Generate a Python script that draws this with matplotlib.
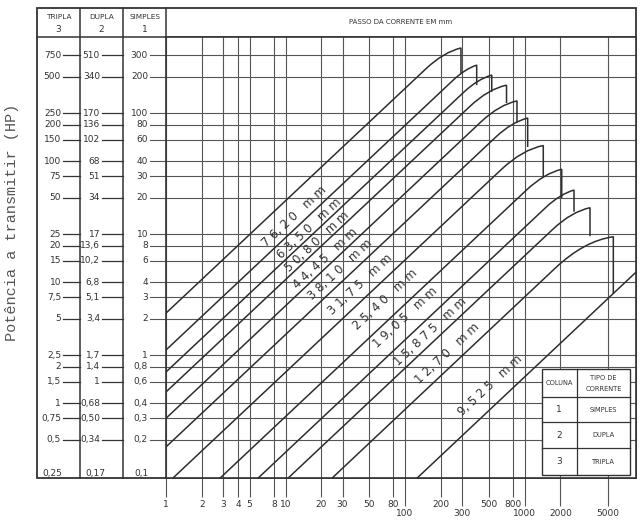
import matplotlib
matplotlib.use("Agg")
import matplotlib.pyplot as plt
import matplotlib.transforms as mtransforms
from matplotlib.path import Path
from matplotlib.patches import PathPatch, Rectangle
from matplotlib.ticker import NullLocator

# escalas das colunas (potencia a transmitir, HP)
simples = [300, 200, 100, 80, 60, 40, 30, 20, 10, 8, 6, 4, 3, 2, 1, 0.8, 0.6, 0.4, 0.3, 0.2, 0.1]
simples_txt = ["300", "200", "100", "80", "60", "40", "30", "20", "10", "8", "6", "4", "3", "2",
               "1", "0,8", "0,6", "0,4", "0,3", "0,2", "0,1"]
dupla_txt = ["510", "340", "170", "136", "102", "68", "51", "34", "17", "13,6", "10,2", "6,8", "5,1",
             "3,4", "1,7", "1,4", "1", "0,68", "0,50", "0,34", "0,17"]
tripla_txt = ["750", "500", "250", "200", "150", "100", "75", "50", "25", "20", "15", "10", "7,5",
              "5", "2,5", "2", "1,5", "1", "0,75", "0,5", "0,25"]

# rotacoes (rpm) no eixo x
rpm_cima = [1, 2, 3, 4, 5, 8, 10, 20, 30, 50, 80, 200, 500, 800]
rpm_baixo = [100, 300, 1000, 2000, 5000]

# passo da corrente
passos = ["76,20", "63,50", "50,80", "44,45", "38,10", "31,75", "25,40", "19,05", "15,875", "12,70", "9,525"]

# cada curva: inicio, joelho, controle da curva, pico, fim da queda vertical
curva_rpm = [
    [1, 151, 211, 294, 294],
    [1, 253, 317, 398, 398],
    [1, 310, 406, 532, 532],
    [1, 351, 498, 707, 707],
    [1, 437, 615, 865, 865],
    [1, 574, 781, 1063, 1063],
    [1.14, 645, 962, 1436, 1436],
    [2.83, 1039, 1459, 2048, 2048],
    [5.89, 1519, 1986, 2596, 2596],
    [10.5, 1718, 2464, 3533, 3533],
    [24.5, 1817, 3172, 5536, 5536],
]
curva_hp = [
    [2.22, 234, 319, 345, 210],
    [1.10, 187, 231, 249, 170],
    [0.724, 148.5, 191, 206, 150],
    [0.495, 114, 158, 170, 121],
    [0.30, 85.4, 117, 126, 84],
    [0.174, 63.2, 84.3, 90.9, 52.4],
    [0.096, 34.4, 49.9, 53.9, 29.8],
    [0.096, 23.1, 31.7, 34.3, 19.8],
    [0.096, 16.7, 21.4, 23.1, 15.3],
    [0.096, 10.9, 15.3, 16.5, 9.6],
    [0.096, 5.25, 8.80, 9.50, 3.22],
]
# ultima reta (sem rotulo)
reta_rpm = [126, 8570]
reta_hp = [0.096, 4.84]

# posicao dos rotulos das curvas
rot_rpm = [11.8, 15.7, 18.3, 21.4, 28.6, 42.0, 68.0, 100, 162, 225, 514]
rot_hp = [14.1, 11.0, 8.59, 6.33, 5.04, 3.86, 2.85, 2.06, 1.55, 1.04, 0.565]

cor = "#333333"
cor_grade = "#555555"

W, H = 641, 523
fig = plt.figure(figsize=(W / 100, H / 100), dpi=100, facecolor="white")


def caixa(x0, y0, x1, y1):
    return [x0 / W, 1 - y1 / H, (x1 - x0) / W, (y1 - y0) / H]


# moldura com as colunas (coordenadas em pixels)
moldura = fig.add_axes(caixa(37, 8, 636, 478), zorder=0)
moldura.set_xlim(37, 636)
moldura.set_ylim(478, 8)
moldura.axis("off")

ax = fig.add_axes(caixa(166, 37, 636, 478), zorder=1)
ax.set_xscale("log")
ax.set_yscale("log")
ax.set_xlim(1, 8570)
ax.set_ylim(0.0963, 425)

trans = mtransforms.blended_transform_factory(moldura.transData, ax.transData)

# linhas da moldura
moldura.add_patch(Rectangle((37, 8), 599, 470, fill=False, ec=cor, lw=1.3, clip_on=False))
for xc in [80, 123]:
    moldura.plot([xc, xc], [8, 478], color=cor, lw=1.1, clip_on=False)
moldura.plot([166, 166], [8, 37], color=cor, lw=1.1, clip_on=False)
moldura.plot([37, 636], [37, 37], color=cor, lw=1.1, clip_on=False)

# cabecalho
for xc, nome, num in [(58.5, "TRIPLA", "3"), (101.5, "DUPLA", "2"), (144.5, "SIMPLES", "1")]:
    moldura.text(xc, 17, nome, ha="center", va="center", fontsize=5.3, color=cor)
    moldura.text(xc, 29.5, num, ha="center", va="center", fontsize=6.5, color=cor)
moldura.text(401, 22, "PASSO DA CORRENTE EM mm", ha="center", va="center", fontsize=5, color=cor)

# escalas das colunas
for i, v in enumerate(simples):
    if v == simples[-1]:
        for xc, txt in [(62, tripla_txt[i]), (105, dupla_txt[i]), (149, simples_txt[i])]:
            moldura.text(xc, v, txt, transform=trans, ha="right", va="baseline", fontsize=6.5, color=cor)
        continue
    moldura.text(61, v, tripla_txt[i], transform=trans, ha="right", va="center", fontsize=6.5, color=cor)
    moldura.text(100, v, dupla_txt[i], transform=trans, ha="right", va="center", fontsize=6.5, color=cor)
    moldura.text(148, v, simples_txt[i], transform=trans, ha="right", va="center", fontsize=6.5, color=cor)
    moldura.plot([63, 80], [v, v], transform=trans, color=cor, lw=0.9, clip_on=False)
    moldura.plot([102, 123], [v, v], transform=trans, color=cor, lw=0.9, clip_on=False)
    ax.plot([150, 636], [v, v], transform=trans, color=cor_grade, lw=0.8, clip_on=False, zorder=1)

# grade vertical
for v in rpm_cima + rpm_baixo:
    ax.axvline(v, color=cor_grade, lw=0.8, zorder=1)

# curvas
codigos = [Path.MOVETO, Path.LINETO, Path.CURVE3, Path.CURVE3, Path.LINETO]
for r, h in zip(curva_rpm, curva_hp):
    caminho = Path(list(zip(r, h)), codigos)
    ax.add_patch(PathPatch(caminho, fill=False, ec="#2e2e2e", lw=1.1, zorder=3))
ax.plot(reta_rpm, reta_hp, color="#2e2e2e", lw=1.1, zorder=3)

for p, xr, yh in zip(passos, rot_rpm, rot_hp):
    txt = " ".join(p).replace(" ,", ",") + "   m m"
    ax.text(xr, yh, txt, rotation=43, rotation_mode="anchor", ha="center", va="center",
            fontsize=8.5, color=cor, zorder=4)

# eixo x
ax.xaxis.set_minor_locator(NullLocator())
ax.set_xticks(rpm_cima, [str(v) for v in rpm_cima])
ax.set_xticks(rpm_baixo, [str(v) for v in rpm_baixo], minor=True)
ax.tick_params(axis="x", which="major", length=14, width=0.8, pad=2, labelsize=6.5,
               color=cor_grade, labelcolor=cor)
ax.tick_params(axis="x", which="minor", length=20, width=0.8, pad=2, labelsize=6.5,
               color=cor_grade, labelcolor=cor)
ax.yaxis.set_major_locator(NullLocator())
ax.yaxis.set_minor_locator(NullLocator())
for s in ax.spines.values():
    s.set_color(cor)
    s.set_linewidth(1.2)

# tabela de legenda
tab = dict(transform=moldura.transData, clip_on=False, zorder=6)
ax.add_patch(Rectangle((541.5, 369), 88.5, 106, fc="white", ec=cor, lw=1.0, **tab))
ax.plot([576.7, 576.7], [369, 475], color=cor, lw=0.9, **tab)
for yl in [396.7, 422, 448.3]:
    ax.plot([541.5, 630], [yl, yl], color=cor, lw=0.9, **tab)
ax.text(559, 383, "COLUNA", ha="center", va="center", fontsize=4.8, color=cor, **tab)
ax.text(603.5, 377.5, "TIPO DE", ha="center", va="center", fontsize=4.8, color=cor, **tab)
ax.text(603.5, 389, "CORRENTE", ha="center", va="center", fontsize=4.8, color=cor, **tab)
for yl, num, nome in [(409.5, "1", "SIMPLES"), (435, "2", "DUPLA"), (461.5, "3", "TRIPLA")]:
    ax.text(559, yl, num, ha="center", va="center", fontsize=6.5, color=cor, **tab)
    ax.text(603.5, yl, nome, ha="center", va="center", fontsize=4.8, color=cor, **tab)

fig.text(12 / W, 1 - 222 / H, "Potência a transmitir (HP)", rotation=90, ha="center", va="center",
         family="Liberation Mono", fontsize=11, color="#555555")

fig.savefig("out.png", dpi=100, facecolor="white")
